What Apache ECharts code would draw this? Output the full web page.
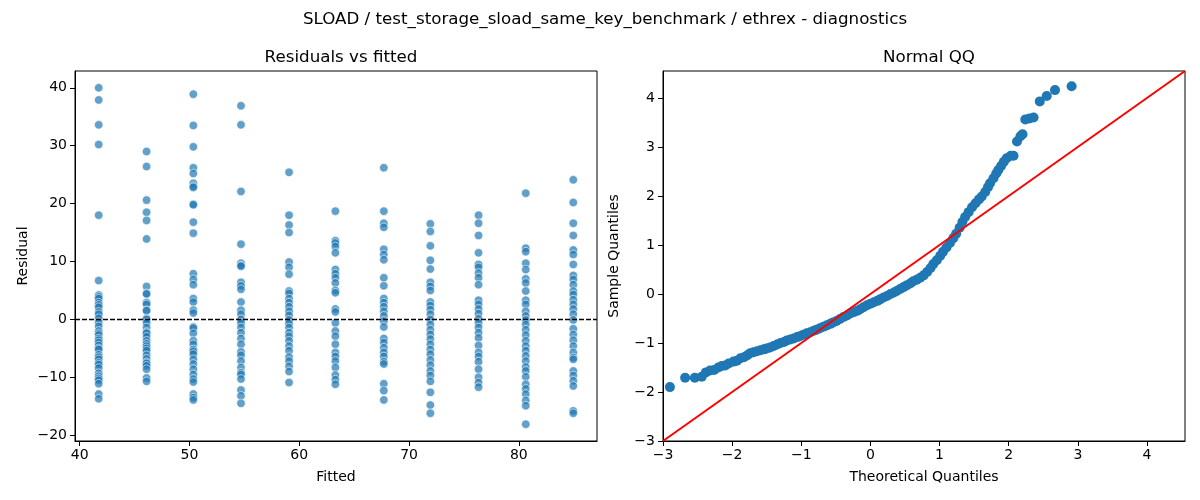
<!DOCTYPE html>
<html>
<head>
<meta charset="utf-8">
<title>SLOAD diagnostics</title>
<script src="https://cdn.jsdelivr.net/npm/echarts@6/dist/echarts.min.js"></script>
<style>
  html, body { margin: 0; padding: 0; background: #fff; }
  #main { width: 1200px; height: 500px; }
</style>
</head>
<body>
<div id="main"></div>
<script>
"use strict";
// fitted values (one column of residuals per level)
var fitted = [41.73, 46.09, 50.35, 54.69, 59.07, 63.29, 67.70, 71.94, 76.33, 80.63, 84.96];

// residuals read per column
var res0 = [40.0, 37.9, 33.6, 30.2, 18.0, 6.7, 4.2, 3.9, 3.6, 2.9, 2.5, 2.1, 1.3, 0.9, 0.2, -0.5, -1.2, -2.0, -2.4, -2.7, -3.3, -3.6, -4.0, -4.5, -5.0, -5.2, -6.1, -6.5, -6.9, -7.5, -7.8, -8.4, -9.3, -9.8, -10.2, -10.5, -11.1, -12.9, -13.7];
var res1 = [29.0, 26.4, 20.6, 18.5, 17.1, 13.9, 5.7, 4.5, 4.4, 2.9, 2.6, 1.6, 1.5, 0.2, 0.0, -0.6, -1.4, -2.2, -2.4, -3.0, -3.7, -4.2, -4.6, -5.0, -5.4, -6.2, -6.8, -7.4, -7.6, -8.0, -8.6, -10.1, -10.7];
var res2 = [38.9, 33.5, 29.8, 26.2, 25.2, 23.5, 23.0, 22.8, 19.9, 19.8, 16.8, 14.9, 7.9, 6.9, 6.0, 3.6, 3.0, 1.6, 1.1, -1.3, -1.5, -2.4, -3.7, -4.3, -5.2, -5.5, -6.0, -6.9, -7.7, -8.6, -9.5, -10.3, -10.8, -12.9, -13.5, -13.9];
var res3 = [36.9, 33.6, 22.1, 13.0, 9.7, 9.3, 9.2, 6.4, 5.8, 5.2, 3.0, 1.6, 0.9, 0.0, -0.6, -1.4, -2.3, -3.3, -4.3, -5.6, -6.2, -7.2, -8.3, -9.2, -9.5, -10.3, -12.2, -13.2, -14.5];
var res4 = [25.4, 18.0, 16.3, 15.0, 9.9, 9.0, 7.8, 4.9, 4.5, 3.6, 2.9, 2.2, 1.4, 0.7, -0.1, -0.7, -1.4, -2.3, -2.9, -3.7, -4.6, -5.4, -6.5, -7.2, -8.1, -9.0, -10.9];
var res5 = [18.7, 13.6, 13.2, 12.6, 11.5, 8.6, 7.9, 7.2, 6.3, 5.0, 4.6, 1.8, 1.3, -0.6, -2.0, -2.9, -4.3, -5.7, -6.4, -7.2, -8.3, -9.6, -10.4, -11.2];
var res6 = [26.2, 18.7, 16.6, 15.9, 12.1, 11.2, 10.3, 7.2, 5.8, 3.6, 2.9, 2.2, 1.4, 0.6, -0.3, -1.3, -3.3, -4.0, -4.9, -5.7, -6.4, -7.3, -7.7, -11.1, -12.3, -13.9];
var res7 = [16.5, 15.2, 12.7, 10.2, 8.7, 6.4, 5.7, 5.0, 3.0, 2.4, 1.7, 0.9, 0.0, -0.9, -1.8, -2.6, -3.4, -4.3, -5.2, -6.0, -7.0, -7.9, -8.9, -9.7, -10.7, -12.6, -14.8, -16.2];
var res8 = [18.0, 16.6, 14.5, 11.5, 9.5, 9.0, 8.0, 7.2, 6.0, 3.3, 2.6, 1.8, 1.0, 0.1, -0.6, -1.4, -2.3, -3.2, -4.5, -5.7, -6.4, -7.3, -8.6, -10.0, -10.9, -11.7];
var res9 = [21.8, 12.3, 11.7, 9.7, 8.6, 7.0, 6.3, 4.9, 3.3, 2.6, 1.4, 0.6, -0.1, -0.9, -1.8, -2.7, -3.7, -4.6, -5.4, -6.3, -7.2, -8.2, -8.9, -9.9, -11.2, -12.0, -12.9, -14.0, -14.9, -18.1];
var res10 = [24.1, 20.2, 16.6, 14.5, 12.0, 11.2, 9.5, 7.6, 6.9, 6.0, 4.9, 4.3, 3.4, 2.6, 1.8, 0.9, -0.1, -1.6, -2.6, -3.6, -4.6, -5.7, -6.6, -6.9, -8.9, -9.7, -10.6, -11.5, -15.8, -16.2];
var residuals = [res0, res1, res2, res3, res4, res5, res6, res7, res8, res9, res10];

// normal QQ points (theoretical, sample)
var qqTheo = [-2.90, -2.68, -2.54, -2.44, -2.38, -2.32, -2.26, -2.20, -2.15, -2.10, -2.05, -1.98, -1.93, -1.88, -1.83, -1.78, -1.74, -1.69, -1.64, -1.59, -1.54, -1.50, -1.45, -1.40, -1.35, -1.30, -1.25, -1.21, -1.16, -1.11, -1.06, -1.02, -0.97, -0.92, -0.87, -0.82, -0.78, -0.73, -0.68, -0.63, -0.58, -0.54, -0.49, -0.44, -0.39, -0.34, -0.29, -0.24, -0.19, -0.15, -0.10, -0.05, 0.00, 0.05, 0.10, 0.14, 0.19, 0.24, 0.29, 0.34, 0.38, 0.43, 0.48, 0.53, 0.58, 0.62, 0.67, 0.72, 0.77, 0.82, 0.87, 0.91, 0.96, 1.01, 1.05, 1.10, 1.15, 1.20, 1.24, 1.29, 1.33, 1.37, 1.42, 1.47, 1.52, 1.57, 1.61, 1.66, 1.70, 1.73, 1.78, 1.82, 1.85, 1.89, 1.93, 1.97, 2.03, 2.07, 2.12, 2.17, 2.20, 2.24, 2.30, 2.36, 2.45, 2.55, 2.67, 2.91];
var qqSample = [-1.90, -1.71, -1.71, -1.69, -1.60, -1.56, -1.55, -1.50, -1.47, -1.46, -1.42, -1.38, -1.36, -1.31, -1.29, -1.25, -1.21, -1.19, -1.17, -1.15, -1.13, -1.11, -1.09, -1.06, -1.03, -1.00, -0.98, -0.95, -0.93, -0.91, -0.88, -0.86, -0.83, -0.80, -0.78, -0.75, -0.73, -0.70, -0.67, -0.64, -0.61, -0.58, -0.55, -0.51, -0.47, -0.44, -0.40, -0.37, -0.34, -0.31, -0.27, -0.23, -0.20, -0.17, -0.14, -0.11, -0.07, -0.04, 0.00, 0.03, 0.06, 0.10, 0.14, 0.18, 0.22, 0.26, 0.29, 0.33, 0.38, 0.45, 0.53, 0.61, 0.69, 0.78, 0.86, 0.95, 1.04, 1.14, 1.23, 1.35, 1.47, 1.57, 1.67, 1.77, 1.85, 1.93, 1.99, 2.08, 2.18, 2.26, 2.36, 2.46, 2.53, 2.61, 2.70, 2.77, 2.82, 2.82, 3.11, 3.22, 3.26, 3.56, 3.58, 3.60, 3.93, 4.04, 4.16, 4.24];

// tick labels
var fittedTicks = [40, 50, 60, 70, 80];
var residTicks = [-20, -10, 0, 10, 20, 30, 40];
var qqTicks = [-3, -2, -1, 0, 1, 2, 3, 4];
var qqLimits = [-3, 4.55];

var FONT = "DejaVu Sans";
function fmt(v) { return String(v).replace("-", "\u2212"); }

function axis(idx, min, max, ticks, name, gap, isY) {
    return {
        type: "value", gridIndex: idx, min: min, max: max,
        name: name, nameLocation: "middle", nameGap: gap,
        nameTextStyle: { fontFamily: FONT, fontSize: 14, color: "#000" },
        axisLine: { show: true, onZero: false, lineStyle: { color: "#000", width: 1 } },
        axisTick: { show: true, length: 5, customValues: ticks, lineStyle: { color: "#000" } },
        axisLabel: { customValues: ticks, formatter: fmt, fontFamily: FONT, fontSize: 14, color: "#000", margin: isY ? 8 : 7 },
        splitLine: { show: false }
    };
}

var scatterData = [];
residuals.forEach(function (col, i) {
    col.forEach(function (r) { scatterData.push([fitted[i], r]); });
});
var qqData = qqTheo.map(function (t, i) { return [t, qqSample[i]]; });

var myChart = echarts.init(document.getElementById("main"));
myChart.setOption({
    animation: false,
    backgroundColor: "#fff",
    title: [
        { text: "SLOAD / test_storage_sload_same_key_benchmark / ethrex - diagnostics", left: 600, top: 6, textAlign: "center",
          textStyle: { fontFamily: FONT, fontSize: 16.7, fontWeight: "normal", color: "#000" } },
        { text: "Residuals vs fitted", left: 336, top: 44, textAlign: "center",
          textStyle: { fontFamily: FONT, fontSize: 16.7, fontWeight: "normal", color: "#000" } },
        { text: "Normal QQ", left: 924, top: 44, textAlign: "center",
          textStyle: { fontFamily: FONT, fontSize: 16.7, fontWeight: "normal", color: "#000" } }
    ],
    grid: [
        { left: 75, top: 71, width: 522, height: 370, show: true, borderColor: "#000", borderWidth: 1 },
        { left: 663, top: 71, width: 522, height: 370, show: true, borderColor: "#000", borderWidth: 1 }
    ],
    xAxis: [
        axis(0, 39.57, 87.12, fittedTicks, "Fitted", 29, false),
        axis(1, qqLimits[0], qqLimits[1], qqTicks, "Theoretical Quantiles", 29, false)
    ],
    yAxis: [
        axis(0, -21.0, 42.9, residTicks, "Residual", 45, true),
        axis(1, qqLimits[0], qqLimits[1], qqTicks, "Sample Quantiles", 42, true)
    ],
    series: [
        {
            type: "scatter", xAxisIndex: 0, yAxisIndex: 0, data: scatterData,
            symbolSize: 8.5,
            itemStyle: { color: "#1f77b4", opacity: 0.7, borderColor: "#fff", borderWidth: 0.8 },
            markLine: {
                silent: true, symbol: "none", label: { show: false },
                lineStyle: { color: "#000", type: [5, 2], width: 1.3 },
                data: [{ yAxis: 0 }]
            }
        },
        {
            type: "scatter", xAxisIndex: 1, yAxisIndex: 1, data: qqData,
            symbolSize: 10,
            itemStyle: { color: "#1f77b4", opacity: 1 }
        },
        {
            type: "line", xAxisIndex: 1, yAxisIndex: 1, z: 5,
            data: [[qqLimits[0], qqLimits[0]], [qqLimits[1], qqLimits[1]]],
            symbol: "none", lineStyle: { color: "#ff0000", width: 2 }
        }
    ]
});
</script>
</body>
</html>
